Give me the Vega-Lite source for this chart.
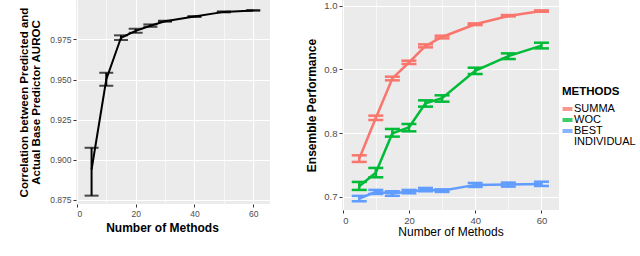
{
  "$schema": "https://vega.github.io/schema/vega-lite/v6.json",
  "padding": {"left": 18, "top": 0, "right": 0, "bottom": 0},
  "background": "white",
  "bounds": "flush",
  "spacing": 72,
  "config": {
    "font": "Liberation Sans",
    "view": {"fill": "#EBEBEB", "stroke": null},
    "axis": {
      "domain": false,
      "tickColor": "#333333",
      "tickSize": 3,
      "labelColor": "#4D4D4D",
      "labelPadding": 2,
      "gridColor": "white",
      "titleColor": "black"
    }
  },
  "datasets": {
    "corr": [
      {"x": 5, "mean": 0.894, "lo": 0.8777, "hi": 0.9075},
      {"x": 10, "mean": 0.950, "lo": 0.9461, "hi": 0.9542},
      {"x": 15, "mean": 0.976, "lo": 0.9746, "hi": 0.9775},
      {"x": 20, "mean": 0.9803, "lo": 0.9791, "hi": 0.9816},
      {"x": 25, "mean": 0.9835, "lo": 0.9828, "hi": 0.9843},
      {"x": 30, "mean": 0.9863, "lo": 0.986, "hi": 0.9866},
      {"x": 40, "mean": 0.9892, "lo": 0.9889, "hi": 0.9895},
      {"x": 50, "mean": 0.9921, "lo": 0.9918, "hi": 0.9924},
      {"x": 60, "mean": 0.993, "lo": 0.9928, "hi": 0.9932}
    ],
    "perf": [
      {"method": "SUMMA", "x": 5, "mean": 0.760, "lo": 0.755, "hi": 0.7654},
      {"method": "SUMMA", "x": 10, "mean": 0.824, "lo": 0.8208, "hi": 0.8276},
      {"method": "SUMMA", "x": 15, "mean": 0.886, "lo": 0.883, "hi": 0.8887},
      {"method": "SUMMA", "x": 20, "mean": 0.911, "lo": 0.9086, "hi": 0.9138},
      {"method": "SUMMA", "x": 25, "mean": 0.937, "lo": 0.9347, "hi": 0.9394},
      {"method": "SUMMA", "x": 30, "mean": 0.951, "lo": 0.9488, "hi": 0.953},
      {"method": "SUMMA", "x": 40, "mean": 0.971, "lo": 0.9697, "hi": 0.9723},
      {"method": "SUMMA", "x": 50, "mean": 0.984, "lo": 0.9833, "hi": 0.9854},
      {"method": "SUMMA", "x": 60, "mean": 0.9916, "lo": 0.9906, "hi": 0.9927},
      {"method": "WOC", "x": 5, "mean": 0.717, "lo": 0.7111, "hi": 0.7236},
      {"method": "WOC", "x": 10, "mean": 0.738, "lo": 0.7309, "hi": 0.7456},
      {"method": "WOC", "x": 15, "mean": 0.800, "lo": 0.7947, "hi": 0.8067},
      {"method": "WOC", "x": 20, "mean": 0.809, "lo": 0.803, "hi": 0.8145},
      {"method": "WOC", "x": 25, "mean": 0.847, "lo": 0.8417, "hi": 0.8516},
      {"method": "WOC", "x": 30, "mean": 0.855, "lo": 0.8495, "hi": 0.8595},
      {"method": "WOC", "x": 40, "mean": 0.898, "lo": 0.8929, "hi": 0.9028},
      {"method": "WOC", "x": 50, "mean": 0.921, "lo": 0.9164, "hi": 0.9253},
      {"method": "WOC", "x": 60, "mean": 0.9375, "lo": 0.9331, "hi": 0.942},
      {"method": "BEST INDIVIDUAL", "x": 5, "mean": 0.6975, "lo": 0.6933, "hi": 0.7017},
      {"method": "BEST INDIVIDUAL", "x": 10, "mean": 0.708, "lo": 0.7048, "hi": 0.7111},
      {"method": "BEST INDIVIDUAL", "x": 15, "mean": 0.7055, "lo": 0.7017, "hi": 0.709},
      {"method": "BEST INDIVIDUAL", "x": 20, "mean": 0.7085, "lo": 0.7058, "hi": 0.7111},
      {"method": "BEST INDIVIDUAL", "x": 25, "mean": 0.7115, "lo": 0.709, "hi": 0.7142},
      {"method": "BEST INDIVIDUAL", "x": 30, "mean": 0.710, "lo": 0.708, "hi": 0.712},
      {"method": "BEST INDIVIDUAL", "x": 40, "mean": 0.719, "lo": 0.7158, "hi": 0.722},
      {"method": "BEST INDIVIDUAL", "x": 50, "mean": 0.7195, "lo": 0.7163, "hi": 0.7226},
      {"method": "BEST INDIVIDUAL", "x": 60, "mean": 0.7205, "lo": 0.7173, "hi": 0.724}
    ]
  },
  "hconcat": [
    {
      "width": 194,
      "height": 204,
      "data": {"name": "corr"},
      "encoding": {
        "x": {
          "field": "x", "type": "quantitative",
          "scale": {"domain": [-0.3, 65.7], "nice": false, "zero": false},
          "axis": {
            "title": "Number of Methods",
            "titleFontSize": 12, "titleFontWeight": "bold", "titlePadding": 5,
            "titleX": 86,
            "values": [0, 10, 20, 30, 40, 50, 60],
            "labelExpr": "datum.value % 20 == 0 ? datum.label : ''",
            "labelFontSize": 8.5,
            "tickOpacity": {"condition": {"test": "datum.value % 20 != 0", "value": 0}, "value": 1},
            "gridWidth": {"condition": {"test": "datum.value % 20 != 0", "value": 0.6}, "value": 1.1}
          }
        }
      },
      "layer": [
        {
          "mark": {"type": "line", "color": "black", "strokeWidth": 2},
          "encoding": {
            "y": {
              "field": "mean", "type": "quantitative",
              "scale": {"domain": [0.8725, 0.9995], "nice": false, "zero": false},
              "axis": {
                "title": ["Correlation between Predicted and", "Actual Base Predictor AUROC"],
                "titleFontSize": 11.5, "titleFontWeight": "bold", "titleLineHeight": 12, "titlePadding": 8,
                "values": [0.875, 0.8875, 0.9, 0.9125, 0.925, 0.9375, 0.95, 0.9625, 0.975, 0.9875],
                "format": ".3f",
                "labelExpr": "round(datum.value*1000) % 25 == 0 ? datum.label : ''",
                "labelFontSize": 8.5,
                "tickOpacity": {"condition": {"test": "round(datum.value*1000) % 25 != 0", "value": 0}, "value": 1},
                "gridWidth": {"condition": {"test": "round(datum.value*1000) % 25 != 0", "value": 0.6}, "value": 1.1}
              }
            }
          }
        },
        {
          "mark": {"type": "rule", "color": "black", "strokeWidth": 2},
          "encoding": {"y": {"field": "lo", "type": "quantitative"}, "y2": {"field": "hi"}}
        },
        {
          "mark": {"type": "tick", "orient": "horizontal", "color": "black", "size": 14, "thickness": 2},
          "encoding": {"y": {"field": "lo", "type": "quantitative"}}
        },
        {
          "mark": {"type": "tick", "orient": "horizontal", "color": "black", "size": 14, "thickness": 2},
          "encoding": {"y": {"field": "hi", "type": "quantitative"}}
        }
      ]
    },
    {
      "width": 217,
      "height": 210,
      "data": {"name": "perf"},
      "encoding": {
        "x": {
          "field": "x", "type": "quantitative",
          "scale": {"domain": [-0.2, 65.3], "nice": false, "zero": false},
          "axis": {
            "title": "Number of Methods",
            "titleFontSize": 12, "titleFontWeight": "normal", "titlePadding": 2,
            "values": [0, 10, 20, 30, 40, 50, 60],
            "labelExpr": "datum.value % 20 == 0 ? datum.label : ''",
            "labelFontSize": 9.5,
            "tickOpacity": {"condition": {"test": "datum.value % 20 != 0", "value": 0}, "value": 1},
            "gridWidth": {"condition": {"test": "datum.value % 20 != 0", "value": 0.6}, "value": 1.1}
          }
        },
        "color": {
          "field": "method", "type": "nominal",
          "scale": {"domain": ["SUMMA", "WOC", "BEST INDIVIDUAL"], "range": ["#F8766D", "#00BA38", "#619CFF"]},
          "legend": {
            "title": "METHODS",
            "orient": "none",
            "legendX": 486,
            "legendY": 85.5,
            "titleFontSize": 11.5,
            "titleFontWeight": "bold",
            "titleColor": "black",
            "titlePadding": 6.5,
            "labelFontSize": 11,
            "labelColor": "black",
            "labelOffset": 1,
            "rowPadding": -1.5,
            "symbolType": "M-2,0H2",
            "symbolSize": 25,
            "symbolStrokeWidth": 4,
            "symbolOpacity": 0.75,
            "labelExpr": "datum.label == 'BEST INDIVIDUAL' ? ['BEST', 'INDIVIDUAL'] : datum.label",
            "encode": {
              "labels": {"update": {"lineHeight": {"value": 10.5}}},
              "symbols": {"update": {"strokeJoin": {"value": "round"}}}
            }
          }
        }
      },
      "layer": [
        {
          "mark": {"type": "line", "strokeWidth": 2.5},
          "encoding": {
            "y": {
              "field": "mean", "type": "quantitative",
              "scale": {"domain": [0.6796, 1.009], "nice": false, "zero": false},
              "axis": {
                "title": "Ensemble Performance",
                "titleFontSize": 12, "titleFontWeight": "bold", "titlePadding": 5,
                "values": [0.7, 0.75, 0.8, 0.85, 0.9, 0.95, 1.0],
                "format": ".1f",
                "labelExpr": "round(datum.value*100) % 10 == 0 ? datum.label : ''",
                "labelFontSize": 9.5,
                "tickOpacity": {"condition": {"test": "round(datum.value*100) % 10 != 0", "value": 0}, "value": 1},
                "gridWidth": {"condition": {"test": "round(datum.value*100) % 10 != 0", "value": 0.6}, "value": 1.1}
              }
            }
          }
        },
        {
          "mark": {"type": "rule", "strokeWidth": 2.5},
          "encoding": {"y": {"field": "lo", "type": "quantitative"}, "y2": {"field": "hi"}}
        },
        {
          "mark": {"type": "tick", "orient": "horizontal", "size": 15, "thickness": 2.5, "opacity": 1},
          "encoding": {"y": {"field": "lo", "type": "quantitative"}}
        },
        {
          "mark": {"type": "tick", "orient": "horizontal", "size": 15, "thickness": 2.5, "opacity": 1},
          "encoding": {"y": {"field": "hi", "type": "quantitative"}}
        }
      ]
    }
  ]
}
